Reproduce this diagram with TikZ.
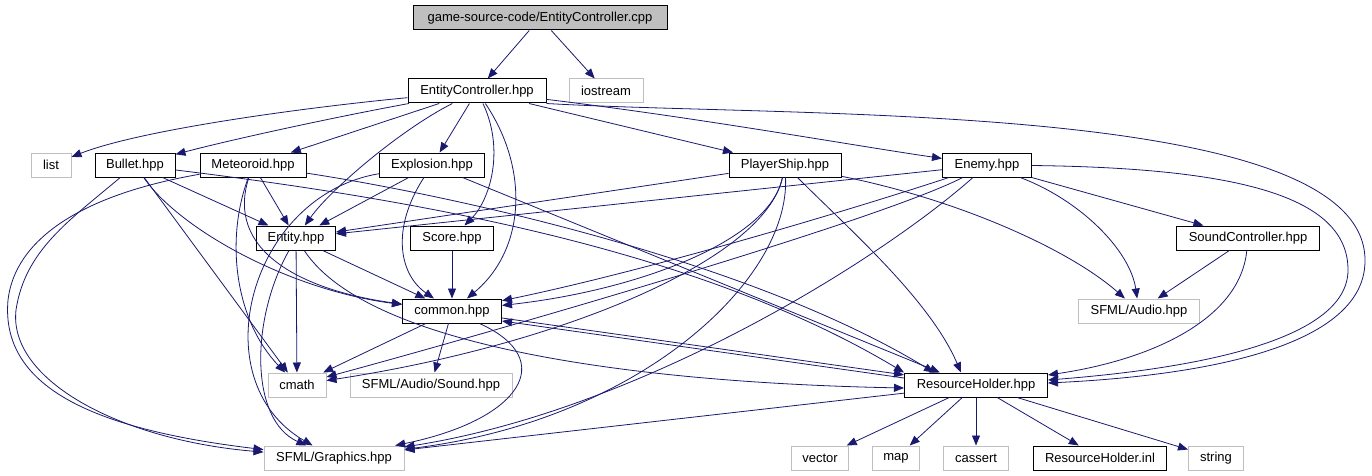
\documentclass[tikz,border=0pt]{standalone}
\usepackage{fontspec}
\setmainfont{Liberation Sans}
\usepackage{tikz}
\usetikzlibrary{arrows.meta}
\definecolor{edgeblue}{RGB}{25,25,112}
\definecolor{sysgray}{RGB}{191,191,191}

\tikzset{
    hdr/.style={
        draw=black,
        line width=1pt,
        rectangle,
        minimum height=24pt,
        inner sep=0pt,
        font=\fontsize{13}{15}\selectfont
    },
    syshdr/.style={hdr, draw=sysgray},
    mainfile/.style={hdr, fill=sysgray},
    dep/.style={->, draw=edgeblue, line width=0.8pt}
}

\begin{document}
\begin{tikzpicture}[x=1pt, y=-1pt, >={Triangle[length=10pt,width=8pt]}]

    \useasboundingbox (0,0) rectangle (1372,476);

    % Fitxers
    \node[mainfile, minimum width=254pt] (cpp) at (540,18) {game-source-code/EntityController.cpp};
    \node[hdr, minimum width=138pt] (ech) at (477,91) {EntityController.hpp};
    \node[syshdr, minimum width=74pt] (ios) at (606,91) {iostream};

    \node[syshdr, minimum width=40pt] (list) at (51,165) {list};
    \node[hdr, minimum width=80pt] (bul) at (135,165) {Bullet.hpp};
    \node[hdr, minimum width=106pt] (met) at (253,165) {Meteoroid.hpp};
    \node[hdr, minimum width=105pt] (exp) at (432,165) {Explosion.hpp};
    \node[hdr, minimum width=112pt] (ply) at (785,165) {PlayerShip.hpp};
    \node[hdr, minimum width=89pt] (enm) at (987,165) {Enemy.hpp};

    \node[hdr, minimum width=79pt] (ent) at (296,238) {Entity.hpp};
    \node[hdr, minimum width=83pt] (sco) at (452,238) {Score.hpp};
    \node[hdr, minimum width=143pt] (snd) at (1248,238) {SoundController.hpp};

    \node[hdr, minimum width=99pt] (com) at (452,311) {common.hpp};
    \node[syshdr, minimum width=121pt] (aud) at (1139,311) {SFML/Audio.hpp};

    \node[syshdr, minimum width=58pt] (cma) at (297,385) {cmath};
    \node[syshdr, minimum width=162pt] (snds) at (431,385) {SFML/Audio/Sound.hpp};
    \node[hdr, minimum width=143pt] (rh) at (976,385) {ResourceHolder.hpp};

    \node[syshdr, minimum width=140pt] (gfx) at (334,458) {SFML/Graphics.hpp};
    \node[syshdr, minimum width=57pt] (vec) at (820,458) {vector};
    \node[syshdr, minimum width=47pt] (map) at (896,458) {map};
    \node[syshdr, minimum width=65pt] (cas) at (976,458) {cassert};
    \node[hdr, minimum width=133pt] (inl) at (1100,458) {ResourceHolder.inl};
    \node[syshdr, minimum width=55pt] (str) at (1216,458) {string};

    % EntityController.cpp
    \draw[dep] (cpp) -- (ech);
    \draw[dep] (cpp) -- (ios);

    % EntityController.hpp
    \draw[dep] (ech) .. controls (300,108) and (140,130) .. (list);
    \draw[dep] (ech) .. controls (330,118) and (230,140) .. (bul);
    \draw[dep] (ech) -- (met);
    \draw[dep] (ech) -- (exp);
    \draw[dep] (ech) .. controls (400,130) and (330,190) .. (ent);
    \draw[dep] (ech) .. controls (505,150) and (490,200) .. (sco);
    \draw[dep] (ech) .. controls (530,170) and (525,250) .. (com);
    \draw[dep] (ech) -- (ply);
    \draw[dep] (ech) .. controls (700,118) and (850,145) .. (enm);
    \draw[dep] (ech.south east) .. controls (800,118) and (1364,100) .. (1365,260)
        .. controls (1366,360) and (1150,378) .. ([yshift=2pt]rh.east);

    % Bullet.hpp
    \draw[dep] (bul) .. controls (70,220) and (25,250) .. (16,310)
        .. controls (8,380) and (120,440) .. (gfx);
    \draw[dep] (bul) -- (ent);
    \draw[dep] (bul) -- (cma);
    \draw[dep] (bul) .. controls (180,230) and (290,290) .. (com);
    \draw[dep] (bul) .. controls (420,200) and (700,250) .. (rh.north west);

    % Meteoroid.hpp
    \draw[dep] (met) .. controls (80,195) and (15,240) .. (8,300)
        .. controls (0,390) and (100,430) .. (gfx);
    \draw[dep] (met) -- (ent);
    \draw[dep] (met) .. controls (225,240) and (235,320) .. (cma);
    \draw[dep] (met) .. controls (225,250) and (300,290) .. (com);
    \draw[dep] (met) .. controls (450,195) and (750,260) .. ([xshift=30pt]rh.north west);

    % Explosion.hpp
    \draw[dep] (exp) -- (ent);
    \draw[dep] (exp) .. controls (390,230) and (400,275) .. (com);
    \draw[dep] (exp) .. controls (250,195) and (200,380) .. (gfx);
    \draw[dep] (exp) -- ([xshift=36pt]rh.north west);

    % PlayerShip.hpp
    \draw[dep] (ply) -- (ent);
    \draw[dep] (ply) .. controls (770,240) and (640,290) .. (com);
    \draw[dep] (ply) .. controls (765,260) and (560,345) .. (cma);
    \draw[dep] (ply) .. controls (790,280) and (640,420) .. (gfx);
    \draw[dep] (ply) .. controls (850,230) and (930,300) .. ([xshift=57pt]rh.north west);
    \draw[dep] (ply) .. controls (960,200) and (1070,250) .. (aud);

    % Enemy.hpp
    \draw[dep] (enm) -- (ent);
    \draw[dep] (enm) .. controls (850,210) and (650,270) .. (com);
    \draw[dep] (enm) .. controls (880,220) and (500,330) .. (cma);
    \draw[dep] (enm) .. controls (880,260) and (640,410) .. (gfx);
    \draw[dep] (enm) -- (snd);
    \draw[dep] (enm) .. controls (1080,200) and (1130,250) .. (aud);
    \draw[dep] (enm) .. controls (1250,168) and (1348,200) .. (1348,270)
        .. controls (1348,350) and (1150,372) .. ([yshift=5pt]rh.east);

    % Entity.hpp, Score.hpp, SoundController.hpp
    \draw[dep] (ent) -- (com);
    \draw[dep] (ent) -- (cma);
    \draw[dep] (ent) .. controls (250,320) and (250,420) .. (gfx);
    \draw[dep] (ent) .. controls (370,350) and (650,383) .. ([yshift=-3pt]rh.west);
    \draw[dep] (sco) -- (com);
    \draw[dep] (snd) -- (aud);
    \draw[dep] (snd) .. controls (1240,320) and (1150,360) .. ([yshift=10pt]rh.east);

    % common.hpp
    \draw[dep] (com) -- (cma);
    \draw[dep] (com) -- (snds);
    \draw[dep] (com) .. controls (560,360) and (520,420) .. (gfx);
    \draw[dep] (com) -- (rh);
    \draw[dep] ([yshift=7pt]rh.west) -- ([yshift=-10pt]com.east);

    % ResourceHolder.hpp
    \draw[dep] (rh) -- (gfx);
    \draw[dep] (rh) -- (vec);
    \draw[dep] (rh) -- (map);
    \draw[dep] (rh) -- (cas);
    \draw[dep] (rh) -- (inl);
    \draw[dep] (rh) -- (str);

\end{tikzpicture}
\end{document}
